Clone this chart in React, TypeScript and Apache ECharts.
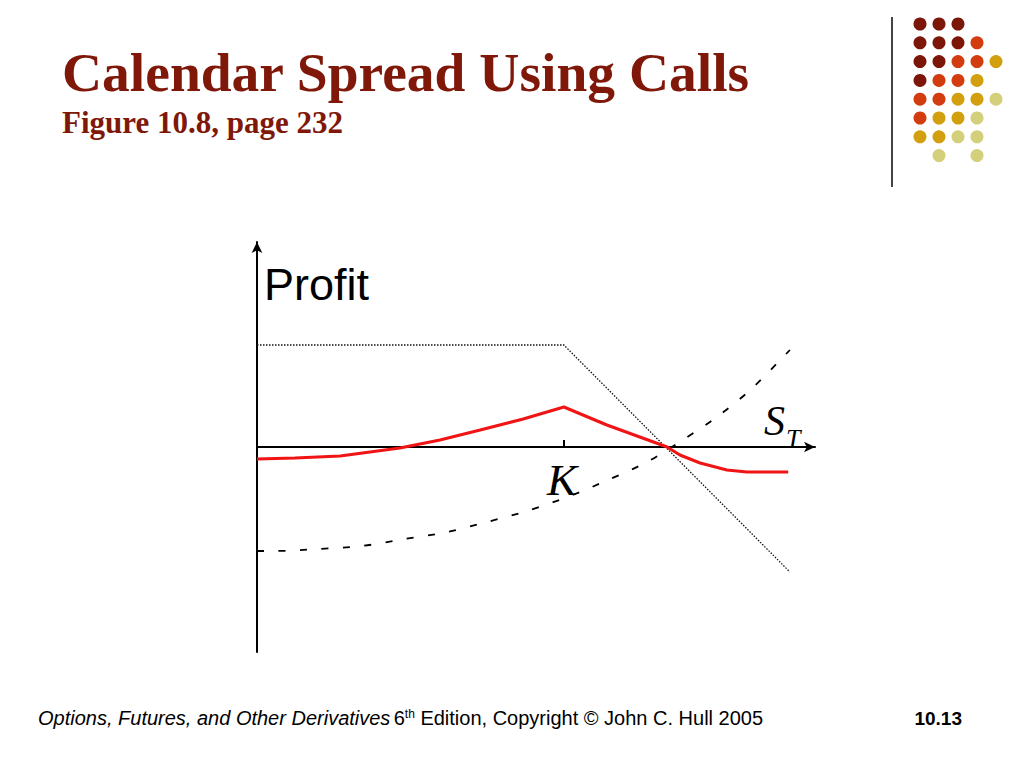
import {useEffect, useRef} from 'react';
import * as echarts from 'echarts';

// short call (dotted): flat until K then falls
const shortCallX = [0, 55, 95.5];
const shortCallY = [10.2, 10.2, -12.5];

// long call value (dashed curve)
const longCallX = [0, 3.2, 10.9, 18.8, 26.5, 34.1, 41.2, 48.4, 56.1, 62.9, 69.9, 76.3, 82.4, 88.4, 95.5];
const longCallY = [-10.4, -10.4, -10.2, -9.9, -9.2, -8.5, -7.5, -6.4, -4.9, -3.3, -1.5, 0.7, 3.0, 5.7, 9.7];

// calendar spread profit (red)
const profitX = [0, 6.8, 14.9, 25.6, 32.8, 40.0, 47.7, 55.0, 62.7, 68.6, 73.5, 75.8, 79.4, 84.2, 87.8, 95.2];
const profitY = [-1.2, -1.1, -0.9, -0.1, 0.7, 1.7, 2.8, 4.0, 2.2, 1.0, 0.0, -0.8, -1.6, -2.3, -2.5, -2.5];

const strikeValue = 55;
const strikeLabel = 'K';

// decoration dots, top right (D dark red, O orange, Y gold, L pale olive)
const dotRows = ['DDD', 'DDDO', 'DDOOY', 'DOOY', 'OOYYL', 'OYYL', 'YYLL', '.L.L'];
const dotColors: Record<string, string> = {D: '#7b1609', O: '#d23c0e', Y: '#d29f0e', L: '#d3cf7a'};

const zip = (xs: number[], ys: number[]) => xs.map((x, i) => [x, ys[i]]);

const SERIF = '"Liberation Serif", "Times New Roman", serif';
const SANS = '"Liberation Sans", Arial, sans-serif';
const TITLE_RED = '#80180a';

export default function App() {
    const ref = useRef<HTMLDivElement | null>(null);

    useEffect(() => {
        if (!ref.current) return;
        const chart = echarts.init(ref.current, null, {renderer: 'svg'});

        const dots: any[] = [];
        dotRows.forEach((row, r) => {
            row.split('').forEach((c, k) => {
                if (!dotColors[c]) return;
                dots.push({
                    type: 'circle',
                    shape: {cx: 920 + k * 19, cy: 24 + r * 18.8, r: 6.5},
                    style: {fill: dotColors[c]}
                });
            });
        });

        chart.setOption({
            animation: false,
            backgroundColor: '#ffffff',
            grid: {left: 257, right: 209, top: 242, bottom: 116},
            xAxis: {
                type: 'value', min: 0, max: 100,
                axisLine: {show: true, onZero: true, symbol: ['none', 'arrow'], symbolSize: [8, 11],
                    lineStyle: {color: '#000', width: 2}},
                axisTick: {show: true, inside: true, length: 7, customValues: [strikeValue],
                    lineStyle: {color: '#000', width: 2}},
                axisLabel: {show: false},
                splitLine: {show: false}
            },
            yAxis: {
                type: 'value', min: -20.5, max: 20.5,
                axisLine: {show: true, symbol: ['none', 'arrow'], symbolSize: [8, 11],
                    lineStyle: {color: '#000', width: 2}},
                axisTick: {show: false},
                axisLabel: {show: false},
                splitLine: {show: false}
            },
            series: [
                {
                    type: 'line', data: zip(shortCallX, shortCallY), symbol: 'none',
                    lineStyle: {color: '#111', width: 1.3, type: [1.5, 1.5]}
                },
                {
                    type: 'line', data: zip(longCallX, longCallY), symbol: 'none', smooth: 0.3,
                    lineStyle: {color: '#000', width: 1.8, type: [7, 14.5]}
                },
                {
                    type: 'line', data: zip(profitX, profitY), symbol: 'none',
                    lineStyle: {color: '#f01414', width: 3}
                }
            ],
            graphic: [
                {type: 'text', x: 62, y: 72, style: {text: 'Calendar Spread Using Calls', fill: TITLE_RED,
                    fontSize: 55.5, fontWeight: 'bold', fontFamily: SERIF, verticalAlign: 'middle'}},
                {type: 'text', x: 62, y: 122, style: {text: 'Figure 10.8, page 232', fill: TITLE_RED,
                    fontSize: 31, fontWeight: 'bold', fontFamily: SERIF, verticalAlign: 'middle'}},
                {type: 'line', shape: {x1: 892, y1: 17, x2: 892, y2: 187}, style: {stroke: '#444', lineWidth: 2}},
                ...dots,
                {type: 'text', x: 264, y: 284, style: {text: 'Profit', fill: '#000',
                    fontSize: 45, fontFamily: SANS, verticalAlign: 'middle'}},
                {type: 'text', x: 562, y: 480, style: {text: strikeLabel, fill: '#000', align: 'center',
                    fontSize: 45, fontStyle: 'italic', fontFamily: SERIF, verticalAlign: 'middle'}},
                {type: 'text', x: 764, y: 421, style: {text: 'S', fill: '#000',
                    fontSize: 42, fontStyle: 'italic', fontFamily: SERIF, verticalAlign: 'middle'}},
                {type: 'text', x: 786, y: 438, style: {text: 'T', fill: '#000',
                    fontSize: 26, fontStyle: 'italic', fontFamily: SERIF, verticalAlign: 'middle'}},
                {type: 'text', x: 38, y: 718, style: {
                    text: '{i|Options, Futures, and Other Derivatives} {n|6}{s|th}{n| Edition, Copyright © John C. Hull 2005}',
                    verticalAlign: 'middle', fill: '#000',
                    rich: {
                        i: {fontSize: 20, fontStyle: 'italic', fontFamily: SANS, color: '#000'},
                        n: {fontSize: 20, fontFamily: SANS, color: '#000'},
                        s: {fontSize: 12, fontFamily: SANS, color: '#000', verticalAlign: 'top'}
                    }
                }},
                {type: 'text', x: 962, y: 718, style: {text: '10.13', fill: '#000', align: 'right',
                    fontSize: 19, fontWeight: 'bold', fontFamily: SANS, verticalAlign: 'middle'}}
            ]
        });

        return () => chart.dispose();
    }, []);

    return <div ref={ref} style={{position: 'absolute', left: 0, top: 0, width: 1024, height: 768}}/>;
}
